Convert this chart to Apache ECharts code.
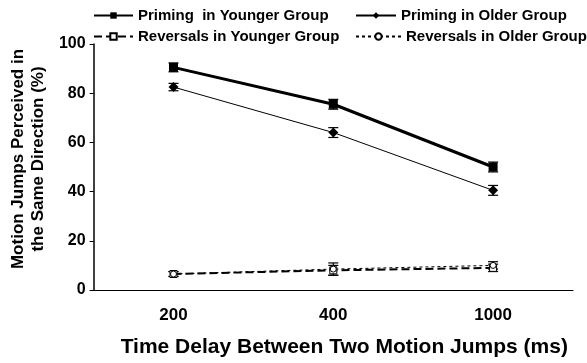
<!DOCTYPE html>
<html>
<head>
<meta charset="utf-8">
<script src="https://cdn.jsdelivr.net/npm/echarts@6/dist/echarts.min.js"></script>
<style>
  html, body { margin: 0; padding: 0; background: #fff; }
  #chart { width: 587px; height: 363px; }
</style>
</head>
<body>
<div id="chart"></div>
<script>
const delays = ['200', '400', '1000'];
const primingYoung = [90.5, 75.5, 50];
const primingOld = [82.5, 64, 40.5];
const reversalYoung = [6.5, 8, 9];
const reversalOld = [6.5, 8.5, 10];
const errPrimingYoung = [1.8, 2.0, 2.0];
const errPrimingOld = [1.5, 2.0, 2.0];
const errReversalYoung = [1.0, 2.0, 1.5];
const errReversalOld = [1.0, 2.5, 1.5];
const yTicks = [0, 20, 40, 60, 80, 100];

const font = 'Liberation Sans, Arial, sans-serif';

function errorData(vals, errs) {
  return vals.map((v, i) => [i, v - errs[i], v + errs[i]]);
}

function errorSeries(vals, errs) {
  return {
    type: 'custom',
    silent: true,
    z: 1,
    data: errorData(vals, errs),
    renderItem(params, api) {
      const lo = api.coord([api.value(0), api.value(1)]);
      const hi = api.coord([api.value(0), api.value(2)]);
      const w = 5;
      const st = { stroke: '#000', lineWidth: 1.2 };
      return {
        type: 'group',
        children: [
          { type: 'line', shape: { x1: lo[0], y1: lo[1], x2: hi[0], y2: hi[1] }, style: st },
          { type: 'line', shape: { x1: lo[0] - w, y1: lo[1], x2: lo[0] + w, y2: lo[1] }, style: st },
          { type: 'line', shape: { x1: hi[0] - w, y1: hi[1], x2: hi[0] + w, y2: hi[1] }, style: st }
        ]
      };
    }
  };
}

const legendText = { fontFamily: font, fontWeight: 'bold', fontSize: 15, color: '#000' };
function legend(name, left, top, w) {
  return {
    data: [name], left: left, top: top, itemWidth: w, itemHeight: 8, itemGap: 4,
    textStyle: legendText, padding: 0, selectedMode: false
  };
}

const chart = echarts.init(document.getElementById('chart'));
chart.setOption({
  animation: false,
  legend: [
    legend('Priming  in Younger Group', 93, 8, 39),
    legend('Priming in Older Group', 355, 8, 40),
    legend('Reversals in Younger Group', 93, 29, 39),
    legend('Reversals in Older Group', 355, 29, 45)
  ],
  grid: { left: 90, right: 14, top: 44, bottom: 72 },
  xAxis: {
    type: 'category',
    data: delays,
    boundaryGap: true,
    name: 'Time Delay Between Two Motion Jumps (ms)',
    nameLocation: 'middle',
    nameGap: 47,
    nameTextStyle: { fontFamily: font, fontWeight: 'bold', fontSize: 21, color: '#000', padding: [0, 0, 0, 22] },
    axisLine: { lineStyle: { color: '#000', width: 1.2 } },
    axisTick: { inside: true, length: 3, lineStyle: { color: '#000' } },
    axisLabel: { fontFamily: font, fontWeight: 'bold', fontSize: 17, color: '#000', margin: 17 }
  },
  yAxis: {
    type: 'value',
    min: 0, max: 100, interval: 20,
    name: 'Motion Jumps Perceived in\nthe Same Direction (%)',
    nameLocation: 'middle',
    nameGap: 31,
    nameTextStyle: { fontFamily: font, fontWeight: 'bold', fontSize: 17, color: '#000', lineHeight: 20, padding: [0, 0, 0, 16] },
    axisLine: { show: true, lineStyle: { color: '#000', width: 1.5 } },
    axisTick: { show: true, length: 4, lineStyle: { color: '#000' } },
    splitLine: { show: false },
    axisLabel: {
      fontFamily: font, fontWeight: 'bold', fontSize: 16, color: '#000', margin: 8,
      formatter: v => yTicks.includes(v) ? String(v) : ''
    }
  },
  series: [
    {
      name: 'Priming  in Younger Group', type: 'line', data: primingYoung,
      symbol: 'rect', symbolSize: 9, z: 3,
      lineStyle: { color: '#000', width: 3 }, itemStyle: { color: '#000' }
    },
    {
      name: 'Priming in Older Group', type: 'line', data: primingOld,
      symbol: 'diamond', symbolSize: 10, z: 3,
      lineStyle: { color: '#000', width: 1 }, itemStyle: { color: '#000' }
    },
    {
      name: 'Reversals in Younger Group', type: 'line', data: reversalYoung,
      symbol: 'rect', symbolSize: 7, z: 3,
      lineStyle: { color: '#000', width: 2, type: [8, 4] },
      itemStyle: { color: '#fff', borderColor: '#000', borderWidth: 1 }
    },
    {
      name: 'Reversals in Older Group', type: 'line', data: reversalOld,
      symbol: 'circle', symbolSize: 6, z: 3,
      lineStyle: { color: '#000', width: 1, type: [3, 3] },
      itemStyle: { color: '#fff', borderColor: '#000', borderWidth: 1 }
    },
    errorSeries(primingYoung, errPrimingYoung),
    errorSeries(primingOld, errPrimingOld),
    errorSeries(reversalYoung, errReversalYoung),
    errorSeries(reversalOld, errReversalOld)
  ]
});
</script>
</body>
</html>
